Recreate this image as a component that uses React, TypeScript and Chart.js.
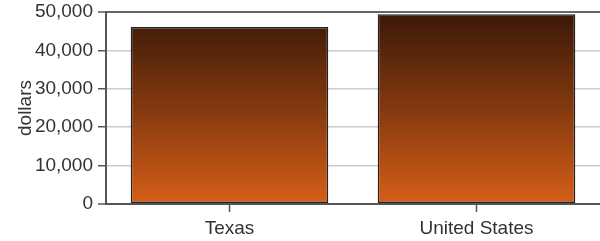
import React, { useEffect, useRef } from "react";
import { Chart, registerables } from "chart.js";

Chart.register(...registerables);

const categories = ["Texas", "United States"];
const values = [46100, 49400];
const yTicks = [0, 10000, 20000, 30000, 40000, 50000];
const yTitle = "dollars";

export default function App() {
  const ref = useRef<HTMLCanvasElement | null>(null);

  useEffect(() => {
    document.body.style.margin = "0";
    const canvas = ref.current!;
    const font = { family: "'Liberation Sans', Arial, sans-serif", size: 19 };
    const chart = new Chart(canvas, {
      type: "bar",
      data: {
        labels: categories,
        datasets: [
          {
            data: values,
            backgroundColor: (ctx: any) => {
              const c = ctx.chart;
              const area = c.chartArea;
              if (!area) return "#8a3d12";
              const g = c.ctx.createLinearGradient(0, area.top, 0, area.bottom);
              g.addColorStop(0, "#3a1808");
              g.addColorStop(0.5, "#83390f");
              g.addColorStop(1, "#d65e18");
              return g;
            },
            borderColor: "#222",
            borderWidth: 1.5,
            borderSkipped: false,
            barPercentage: 0.8,
            categoryPercentage: 1.0,
          },
        ],
      },
      options: {
        animation: false,
        responsive: false,
        maintainAspectRatio: false,
        layout: { padding: { top: 12, right: 0, left: 0, bottom: 0 } },
        plugins: { legend: { display: false }, tooltip: { enabled: false } },
        scales: {
          x: {
            offset: true,
            afterFit: (s: any) => {
              s.height = 37;
              s.paddingLeft = 0;
              s.paddingRight = 0;
            },
            grid: {
              offset: false,
              drawOnChartArea: false,
              tickLength: 8,
              tickColor: "#555",
              tickWidth: 1.5,
            },
            border: { display: true, color: "#555", width: 2 },
            ticks: { color: "#333", font, padding: 5 },
          },
          y: {
            min: 0,
            max: 50000,
            afterFit: (s: any) => {
              s.width = 106;
              s.paddingTop = 0;
              s.paddingBottom = 0;
            },
            afterBuildTicks: (s: any) => {
              s.ticks = yTicks.map((v) => ({ value: v }));
            },
            grid: {
              color: (ctx: any) =>
                ctx.tick && (ctx.tick.value === 50000 || ctx.tick.value === 0) ? "#666" : "#cccccc",
              lineWidth: (ctx: any) =>
                ctx.tick && (ctx.tick.value === 50000 || ctx.tick.value === 0) ? 2 : 1.5,
              tickLength: 8,
              tickColor: "#555",
              tickWidth: 1.5,
            },
            border: { display: true, color: "#555", width: 2 },
            ticks: {
              color: "#333",
              font,
              padding: 5,
              callback: (v: any) => Number(v).toLocaleString("en-US"),
            },
            title: {
              display: true,
              text: yTitle,
              color: "#333",
              font,
              padding: { top: 14, bottom: 0 },
            },
          },
        },
      },
    });
    return () => chart.destroy();
  }, []);

  return (
    <div style={{ position: "absolute", left: 0, top: 0, width: 600, height: 241 }}>
      <canvas ref={ref} width={600} height={241} style={{ width: 600, height: 241 }} />
    </div>
  );
}
